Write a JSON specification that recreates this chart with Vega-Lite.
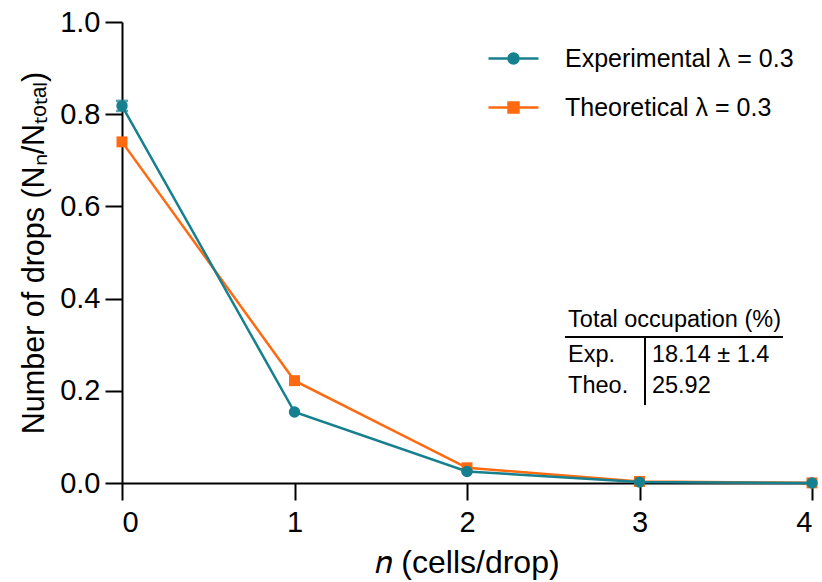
{
  "$schema": "https://vega.github.io/schema/vega-lite/v6.json",
  "width": 690,
  "height": 461,
  "autosize": {"type": "none"},
  "padding": {"left": 122, "top": 22, "right": 10, "bottom": 99},
  "background": "white",
  "config": {
    "view": {"stroke": null},
    "font": "Liberation Sans",
    "axis": {
      "domainColor": "black", "domainWidth": 2, "tickColor": "black", "tickWidth": 2, "tickSize": 17,
      "labelFontSize": 29, "labelColor": "black", "labelFont": "Liberation Sans", "grid": false,
      "titleFontSize": 30.5, "titleFontWeight": "normal", "titleColor": "black", "titleFont": "Liberation Sans"
    }
  },
  "datasets": {
    "series": [
      {"n": 0, "p": 0.740, "series": "Theoretical λ = 0.3"},
      {"n": 1, "p": 0.222, "series": "Theoretical λ = 0.3"},
      {"n": 2, "p": 0.033, "series": "Theoretical λ = 0.3"},
      {"n": 3, "p": 0.0033, "series": "Theoretical λ = 0.3"},
      {"n": 4, "p": 0.0003, "series": "Theoretical λ = 0.3"},
      {"n": 0, "p": 0.818, "lo": 0.807, "hi": 0.829, "series": "Experimental λ = 0.3"},
      {"n": 1, "p": 0.154, "lo": 0.152, "hi": 0.156, "series": "Experimental λ = 0.3"},
      {"n": 2, "p": 0.025, "lo": 0.024, "hi": 0.026, "series": "Experimental λ = 0.3"},
      {"n": 3, "p": 0.002, "lo": 0.002, "hi": 0.002, "series": "Experimental λ = 0.3"},
      {"n": 4, "p": 0.0, "lo": 0.0, "hi": 0.0, "series": "Experimental λ = 0.3"}
    ],
    "tableText": [
      {"tx": 2.586, "ty": 0.354, "label": "Total occupation (%)"},
      {"tx": 2.586, "ty": 0.2777, "label": "Exp."},
      {"tx": 3.072, "ty": 0.2777, "label": "18.14 ± 1.4"},
      {"tx": 2.586, "ty": 0.2104, "label": "Theo."},
      {"tx": 3.072, "ty": 0.2104, "label": "25.92"}
    ],
    "tableRules": [
      {"x1": 2.568, "x2": 3.832, "y1": 0.3167, "y2": 0.3167},
      {"x1": 3.032, "x2": 3.032, "y1": 0.3167, "y2": 0.169}
    ]
  },
  "layer": [
    {
      "data": {"name": "series"},
      "transform": [{"filter": "datum.series === 'Theoretical λ = 0.3'"}],
      "mark": {"type": "line", "strokeWidth": 2.5},
      "encoding": {
        "x": {"field": "n", "type": "quantitative", "scale": {"domain": [0, 4], "nice": false},
              "axis": {"values": [0, 1, 2, 3, 4], "format": "d", "title": "𝑛 (cells/drop)", "titleFontSize": 32, "labelPadding": 8, "titlePadding": 10}},
        "y": {"field": "p", "type": "quantitative", "scale": {"domain": [0, 1], "nice": false},
              "axis": {"values": [0, 0.2, 0.4, 0.6, 0.8, 1.0], "format": ".1f", "title": "Number of drops (Nₙ/Nₜₒₜₐₗ)", "labelPadding": 5, "titlePadding": 10}},
        "color": {"field": "series", "type": "nominal",
          "scale": {"domain": ["Experimental λ = 0.3", "Theoretical λ = 0.3"], "range": ["#17808F", "#FF6A10"]},
          "legend": {
            "title": null, "orient": "none", "legendX": 365, "legendY": 10,
            "labelFontSize": 25, "labelFont": "Liberation Sans", "labelColor": "black", "labelOffset": 25, "labelLimit": 0,
            "symbolSize": 2500, "rowPadding": 9,
            "encode": {
              "symbols": {"update": {
                "shape": {"signal": "datum.value === 'Experimental λ = 0.3' ? 'M-1,0H1M-0.2,0A0.2,0.2 0 1,0 0.2,0A0.2,0.2 0 1,0 -0.2,0Z' : 'M-1,0H1M-0.2,-0.2H0.2V0.2H-0.2Z'"},
                "stroke": {"scale": "color", "field": "value"},
                "fill": {"scale": "color", "field": "value"},
                "strokeWidth": {"value": 2.5},
                "size": {"value": 2500}
              }}
            }
          }}
      }
    },
    {
      "data": {"name": "series"},
      "transform": [{"filter": "datum.series === 'Theoretical λ = 0.3'"}],
      "mark": {"type": "point", "shape": "square", "filled": true, "size": 120, "opacity": 1},
      "encoding": {
        "x": {"field": "n", "type": "quantitative"},
        "y": {"field": "p", "type": "quantitative"},
        "color": {"field": "series", "type": "nominal"}
      }
    },
    {
      "data": {"name": "series"},
      "transform": [{"filter": "datum.series === 'Experimental λ = 0.3'"}],
      "mark": {"type": "line", "strokeWidth": 2.5},
      "encoding": {
        "x": {"field": "n", "type": "quantitative"},
        "y": {"field": "p", "type": "quantitative"},
        "color": {"field": "series", "type": "nominal"}
      }
    },
    {
      "data": {"name": "series"},
      "transform": [{"filter": "datum.series === 'Experimental λ = 0.3' && datum.n === 0"}],
      "mark": {"type": "errorbar", "ticks": {"size": 12, "thickness": 2.5}, "thickness": 2.5, "color": "#17808F"},
      "encoding": {
        "x": {"field": "n", "type": "quantitative"},
        "y": {"field": "lo", "type": "quantitative", "title": "Number of drops (Nₙ/Nₜₒₜₐₗ)"},
        "y2": {"field": "hi"}
      }
    },
    {
      "data": {"name": "series"},
      "transform": [{"filter": "datum.series === 'Experimental λ = 0.3'"}],
      "mark": {"type": "point", "shape": "circle", "filled": true, "size": 130, "opacity": 1},
      "encoding": {
        "x": {"field": "n", "type": "quantitative"},
        "y": {"field": "p", "type": "quantitative"},
        "color": {"field": "series", "type": "nominal"}
      }
    },
    {
      "data": {"name": "tableRules"},
      "mark": {"type": "rule", "color": "black", "strokeWidth": 2},
      "encoding": {
        "x": {"field": "x1", "type": "quantitative"},
        "x2": {"field": "x2"},
        "y": {"field": "y1", "type": "quantitative"},
        "y2": {"field": "y2"}
      }
    },
    {
      "data": {"name": "tableText"},
      "mark": {"type": "text", "align": "left", "baseline": "middle", "fontSize": 23.5, "font": "Liberation Sans", "color": "black"},
      "encoding": {
        "x": {"field": "tx", "type": "quantitative"},
        "y": {"field": "ty", "type": "quantitative"},
        "text": {"field": "label"}
      }
    }
  ]
}
